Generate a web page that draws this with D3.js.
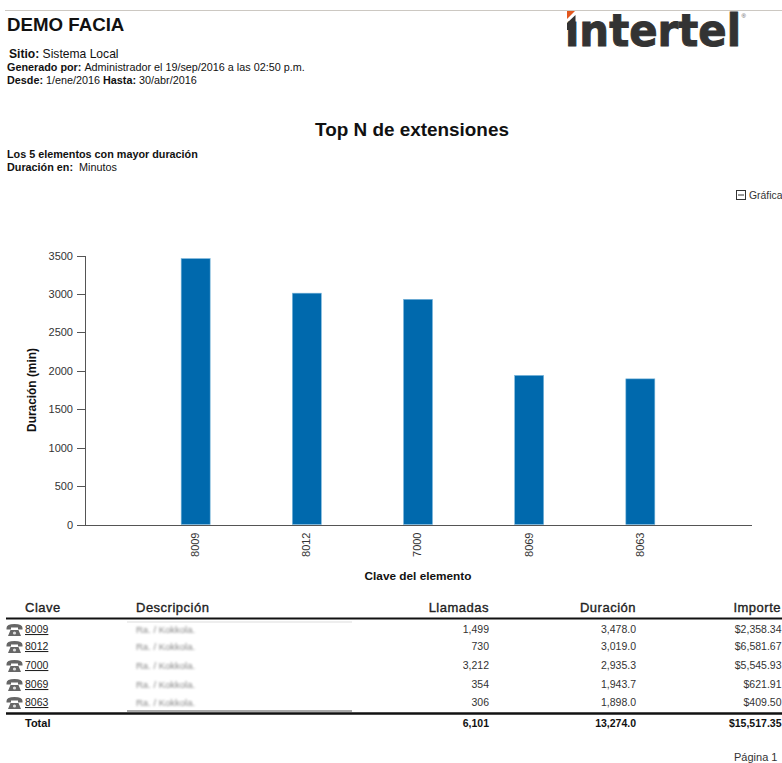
<!DOCTYPE html>
<html lang="es">
<head>
<meta charset="UTF-8">
<title>Top N de extensiones</title>
<style>
  html, body { margin: 0; padding: 0; background: #fff; overflow: hidden; }
  svg { display: block; }
  text { font-family: "Liberation Sans", Arial, sans-serif; fill: #111; }
  .axis text { font-size: 11px; fill: #333; }
  .axis path, .axis line { stroke: #555; stroke-width: 1px; shape-rendering: crispEdges; }
  .b { font-weight: bold; }
</style>
</head>
<body>
<div id="viz"></div>
<script src="https://d3js.org/d3.v7.min.js"></script>
<script>
const claves = ["8009", "8012", "7000", "8069", "8063"]
const duracionChart = [3460, 3010, 2930, 1940, 1895]
const llamadas = ["1,499", "730", "3,212", "354", "306"]
const duracion = ["3,478.0", "3,019.0", "2,935.3", "1,943.7", "1,898.0"]
const importe = ["$2,358.34", "$6,581.67", "$5,545.93", "$621.91", "$409.50"]
const totales = ["6,101", "13,274.0", "$15,517.35"]
const yTicks = [0, 500, 1000, 1500, 2000, 2500, 3000, 3500]
const rowY = [633, 650, 669, 688, 706]

const svg = d3.select("#viz").append("svg").attr("width", 782).attr("height", 763)

// blur used for the hidden descriptions
svg.append("defs").append("filter").attr("id", "blur")
  .append("feGaussianBlur").attr("stdDeviation", 1.2)

function label(x, y, str, size, bold, anchor) {
  return svg.append("text").attr("x", x).attr("y", y)
    .attr("text-anchor", anchor || "start")
    .style("font-size", size + "px")
    .style("font-weight", bold ? "bold" : "normal")
    .text(str)
}

// header
svg.append("line").attr("x1", 5).attr("x2", 782).attr("y1", 10.5).attr("y2", 10.5)
  .style("stroke", "#ccc8c2")
label(7, 31, "DEMO FACIA", 18.7, true)

let sitio = label(9, 58, "", 12.1, false)
sitio.append("tspan").attr("class", "b").text("Sitio: ")
sitio.append("tspan").text("Sistema Local")
let gen = label(7, 71, "", 10.8, false)
gen.append("tspan").attr("class", "b").text("Generado por: ")
gen.append("tspan").text("Administrador el 19/sep/2016 a las 02:50 p.m.")
let desde = label(7, 84, "", 10.8, false)
desde.append("tspan").attr("class", "b").text("Desde: ")
desde.append("tspan").text("1/ene/2016 ")
desde.append("tspan").attr("class", "b").text("Hasta: ")
desde.append("tspan").text("30/abr/2016")

// logo
svg.append("text").attr("x", 565).attr("y", 46)
  .style("font-family", "'DejaVu Sans'").style("font-weight", "bold")
  .style("font-size", "45px").style("fill", "#333333")
  .style("stroke", "#333333").style("stroke-width", 1)
  .attr("textLength", 176).attr("lengthAdjust", "spacingAndGlyphs")
  .text("ıntertel")
svg.append("path").attr("d", "M567 23 L575.5 15 L575.5 30 L567 30 Z").style("fill", "#333333")
svg.append("path").attr("d", "M567 11 L575 11 L567 19 Z").style("fill", "#e2571e")
label(741.5, 18, "®", 6, false).style("fill", "#555")

label(412, 136, "Top N de extensiones", 18.9, true, "middle")
label(7, 158, "Los 5 elementos con mayor duración", 10.8, true)
let dur = label(7, 171, "", 10.8, false)
dur.append("tspan").attr("class", "b").text("Duración en:")
dur.append("tspan").attr("dx", 6).text("Minutos")

// collapse box + label
svg.append("rect").attr("x", 736.5).attr("y", 190.5).attr("width", 9).attr("height", 9)
  .style("fill", "none").style("stroke", "#333")
svg.append("line").attr("x1", 738).attr("x2", 744).attr("y1", 195).attr("y2", 195)
  .style("stroke", "#333")
label(749, 198.5, "Gráfica", 10.4, false).style("fill", "#333")

// chart
const x = d3.scalePoint().domain(claves).range([84.5, 751.5]).padding(1)
const y = d3.scaleLinear().domain([0, 3500]).range([524.5, 255.5])
const barW = 29

svg.selectAll("rect.bar")
  .data(claves)
  .enter()
  .append("rect")
  .attr("class", "bar")
  .attr("x", function(d) { return x(d) - barW / 2 })
  .attr("y", function(d, i) { return y(duracionChart[i]) })
  .attr("width", barW)
  .attr("height", function(d, i) { return y(0) - y(duracionChart[i]) })
  .style("fill", "#0069ad")
  .style("stroke", "#7db8dc")
  .style("stroke-width", 0.6)

svg.append("g").attr("class", "axis")
  .attr("transform", "translate(85,0)")
  .call(d3.axisLeft(y).tickValues(yTicks).tickFormat(d3.format("d")).tickSize(8).tickPadding(4).tickSizeOuter(0))

let xAxis = svg.append("g").attr("class", "axis")
  .attr("transform", "translate(0,524.5)")
xAxis.call(d3.axisBottom(x).tickSize(0).tickSizeOuter(0))
xAxis.select(".domain").attr("d", "M85,0.5H752")
xAxis.selectAll("text")
  .attr("transform", "rotate(-90)")
  .attr("text-anchor", "end")
  .attr("x", -8)
  .attr("y", -1)
  .attr("dy", "0.35em")

label(0, 0, "Duración (min)", 11.9, true, "middle")
  .attr("transform", "translate(36,390) rotate(-90)")
label(418, 580, "Clave del elemento", 11.8, true, "middle")

// table
function head(px, str, anchor) {
  label(px, 612, str, 13, false, anchor)
    .style("letter-spacing", "0.5px").style("fill", "#222")
    .style("stroke", "#222").style("stroke-width", 0.35)
}
head(25, "Clave")
head(136, "Descripción")
head(489, "Llamadas", "end")
head(636, "Duración", "end")
head(781, "Importe", "end")

svg.append("line").attr("x1", 6).attr("x2", 782).attr("y1", 618.5).attr("y2", 618.5)
  .style("stroke", "#111").style("stroke-width", 2)
svg.append("line").attr("x1", 127).attr("x2", 352).attr("y1", 622).attr("y2", 622)
  .style("stroke", "#ddd").style("stroke-width", 1)
svg.append("line").attr("x1", 127).attr("x2", 352).attr("y1", 711).attr("y2", 711)
  .style("stroke", "#aaa").style("stroke-width", 2)
svg.append("line").attr("x1", 6).attr("x2", 782).attr("y1", 713.5).attr("y2", 713.5)
  .style("stroke", "#111").style("stroke-width", 2.5)

let rows = svg.selectAll("g.row")
  .data(claves)
  .enter()
  .append("g")
  .attr("class", "row")
  .attr("transform", function(d, i) { return "translate(0," + rowY[i] + ")" })

// phone icon
rows.append("path")
  .attr("d", "M6.5 -5 Q6.5 -9 14.5 -9 Q22.5 -9 22.5 -5 L22.5 -3.5 L18 -3.5 L18 -5.5 L11 -5.5 L11 -3.5 L6.5 -3.5 Z M10.5 -3 L18.5 -3 L21 3 L8 3 Z")
  .style("fill", "#666")
rows.append("circle").attr("cx", 14.5).attr("cy", 0).attr("r", 1.6).style("fill", "#ddd")

rows.append("text").attr("x", 25)
  .style("font-size", "10.5px").style("text-decoration", "underline").style("fill", "#222")
  .text(function(d) { return d })
rows.append("text").attr("x", 136)
  .style("font-size", "9.5px").style("fill", "#888").style("filter", "url(#blur)")
  .text("Ra. / Kokkola.")
rows.append("text").attr("x", 489).attr("text-anchor", "end").style("font-size", "10.5px").style("fill", "#333")
  .text(function(d, i) { return llamadas[i] })
rows.append("text").attr("x", 636).attr("text-anchor", "end").style("font-size", "10.5px").style("fill", "#333")
  .text(function(d, i) { return duracion[i] })
rows.append("text").attr("x", 781.5).attr("text-anchor", "end").style("font-size", "10.5px").style("fill", "#333")
  .text(function(d, i) { return importe[i] })

label(25, 727, "Total", 11, true)
label(489, 727, totales[0], 10.5, true, "end")
label(636, 727, totales[1], 10.5, true, "end")
label(781.5, 727, totales[2], 10.5, true, "end")

label(734, 761, "Página  1", 11, false).style("fill", "#333")
</script>
</body>
</html>
